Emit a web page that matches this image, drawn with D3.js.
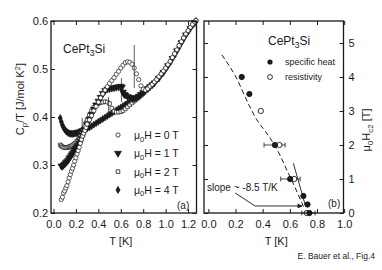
<!DOCTYPE html>
<html><head><meta charset="utf-8">
<script src="https://cdn.jsdelivr.net/npm/d3@7"></script>
<style>
html,body{margin:0;padding:0;background:#fff;}
svg{display:block;font-family:"Liberation Sans",Arial,Helvetica,sans-serif;}
</style></head>
<body>
<svg id="c" width="382" height="270"></svg>
<script>
// ---------- DATA: panel (a) Cp/T vs T ----------
const h0T = [0.07,0.08,0.09,0.10,0.11,0.12,0.13,0.14,0.15,0.16,0.17,0.18,0.19,0.20,0.21,0.22,0.23,0.24,0.25,0.26,0.27,0.28,0.29,0.30,0.32,0.34,0.36,0.38,0.40,0.42,0.44,0.46,0.48,0.50,0.52,0.54,0.56,0.58,0.60,0.62,0.64,0.66,0.68,0.70,0.72,0.74,0.76,0.78,0.80,0.82,0.84,0.86,0.88,0.90,0.92,0.94,0.96,0.98,1.00,1.02,1.04,1.06,1.08,1.10,1.12,1.14,1.16,1.18,1.20,1.22,1.24,1.26,1.27];
const h0C = [0.228,0.233,0.242,0.246,0.252,0.257,0.265,0.273,0.280,0.287,0.293,0.300,0.308,0.315,0.323,0.330,0.337,0.345,0.353,0.360,0.366,0.372,0.378,0.385,0.394,0.403,0.413,0.422,0.431,0.440,0.448,0.456,0.463,0.470,0.476,0.482,0.489,0.495,0.502,0.508,0.513,0.515,0.514,0.510,0.502,0.490,0.478,0.465,0.458,0.456,0.459,0.464,0.468,0.473,0.478,0.484,0.490,0.496,0.502,0.509,0.516,0.524,0.532,0.540,0.549,0.557,0.565,0.573,0.580,0.587,0.593,0.598,0.601];

const h1T = [0.07,0.08,0.09,0.10,0.11,0.12,0.13,0.14,0.15,0.16,0.17,0.18,0.19,0.20,0.21,0.22,0.23,0.24,0.25,0.26,0.27,0.28,0.30,0.32,0.34,0.36,0.38,0.40,0.42,0.44,0.46,0.48,0.50,0.52,0.54,0.56,0.58,0.60,0.61,0.62,0.63,0.64,0.66,0.68,0.70,0.72,0.74,0.76,0.78,0.80,0.82,0.84,0.86,0.88,0.90,0.94,0.98,1.02,1.06,1.10,1.14,1.18,1.22,1.26];
const h1C = [0.298,0.297,0.300,0.302,0.305,0.307,0.310,0.314,0.317,0.321,0.324,0.328,0.332,0.335,0.338,0.341,0.345,0.350,0.356,0.362,0.368,0.374,0.385,0.396,0.406,0.416,0.425,0.433,0.441,0.449,0.455,0.458,0.459,0.460,0.461,0.462,0.463,0.464,0.462,0.452,0.447,0.446,0.443,0.441,0.439,0.438,0.440,0.443,0.447,0.451,0.455,0.459,0.463,0.467,0.471,0.481,0.493,0.507,0.522,0.538,0.555,0.571,0.585,0.597];

const h2T = [0.06,0.07,0.08,0.09,0.10,0.11,0.12,0.13,0.14,0.15,0.16,0.17,0.18,0.19,0.20,0.21,0.22,0.23,0.24,0.25,0.26,0.27,0.28,0.29,0.30,0.32,0.34,0.36,0.38,0.40,0.42,0.44,0.46,0.48,0.50,0.52,0.54,0.56,0.58,0.60,0.62,0.64,0.66,0.68,0.70,0.72,0.74,0.76,0.78,0.80,0.84,0.88,0.92,0.96,1.00,1.04,1.08,1.12,1.16,1.20,1.24,1.27];
const h2C = [0.342,0.340,0.338,0.337,0.336,0.336,0.336,0.337,0.338,0.339,0.340,0.341,0.343,0.345,0.347,0.350,0.353,0.357,0.361,0.366,0.371,0.376,0.382,0.388,0.394,0.404,0.413,0.420,0.425,0.428,0.430,0.431,0.432,0.431,0.428,0.418,0.412,0.410,0.410,0.411,0.413,0.417,0.421,0.425,0.429,0.433,0.437,0.441,0.445,0.449,0.458,0.467,0.477,0.489,0.501,0.514,0.530,0.547,0.564,0.578,0.592,0.600];

const h4T = [0.06,0.07,0.08,0.09,0.10,0.11,0.12,0.13,0.14,0.15,0.16,0.17,0.18,0.19,0.20,0.21,0.22,0.23,0.24,0.25,0.26,0.27,0.28,0.30,0.32,0.34,0.36,0.38,0.40,0.42,0.44,0.46,0.48,0.50,0.52,0.54,0.56,0.58,0.60,0.62,0.64,0.66,0.68,0.70,0.72,0.74,0.76,0.78,0.80,0.82,0.84,0.86,0.88,0.90,0.92,0.96,1.00,1.04,1.08,1.12,1.16,1.20,1.24,1.27];
const h4C = [0.398,0.390,0.383,0.378,0.374,0.371,0.369,0.367,0.366,0.365,0.365,0.365,0.365,0.366,0.366,0.367,0.368,0.369,0.370,0.371,0.372,0.373,0.374,0.376,0.378,0.381,0.384,0.387,0.390,0.393,0.396,0.399,0.402,0.405,0.408,0.411,0.414,0.417,0.420,0.423,0.426,0.429,0.432,0.435,0.438,0.441,0.444,0.448,0.452,0.456,0.460,0.464,0.468,0.472,0.477,0.488,0.500,0.514,0.530,0.547,0.564,0.578,0.591,0.600];

// entropy-conserving jump constructions (T, low, high)
const jumpT  = [0.72, 0.606, 0.49, 0.256];
const jumpLo = [0.460, 0.431, 0.404, 0.373];
const jumpHi = [0.550, 0.481, 0.442, 0.398];

const legendA = ["μ0H = 0 T","μ0H = 1 T","μ0H = 2 T","μ0H = 4 T"];
const xTicksA = [0,0.2,0.4,0.6,0.8,1.0,1.2];
const yTicksA = [0.2,0.3,0.4,0.5,0.6];

// ---------- DATA: panel (b) Hc2 vs T ----------
const shT = [0.246,0.302,0.490,0.602,0.700,0.730,0.744];
const shH = [4.0,3.5,2.0,1.0,0.5,0.25,0.0];
const rsT = [0.386,0.523,0.632,0.725];
const rsH = [3.0,2.0,1.0,0.0];
const errH  = [2,1,0];
const errLo = [0.41,0.533,0.688];
const errHi = [0.565,0.676,0.786];
const fitT = [0.099,0.20,0.30,0.357,0.42,0.479,0.53,0.578,0.63,0.663,0.70];
const fitH = [4.65,4.02,3.17,2.74,2.40,2.05,1.68,1.26,0.82,0.53,0.19];
const slopeT = [0.626,0.713];
const slopeH = [1.46,0.235];
const arrowT = [0.197,0.344,0.690];
const arrowH = [0.59,0.206,0.206];
const xTicksB = [0,0.2,0.4,0.6,0.8,1.0];
const yTicksB = [0,1,2,3,4,5];

// ---------- DRAW ----------
const svg = d3.select("#c");
const ink = "#1a1a1a";

const xA = d3.scaleLinear().domain([-0.022,1.275]).range([51,196.5]);
const yA = d3.scaleLinear().domain([0.2,0.6]).range([213,21]);
const xB = d3.scaleLinear().domain([-0.032,0.995]).range([204,343.5]);
const yB = d3.scaleLinear().domain([0,5.647]).range([213,21]);

function frame(x,y){
  svg.append("rect").attr("x",x.range()[0]).attr("y",y.range()[1])
    .attr("width",x.range()[1]-x.range()[0]).attr("height",y.range()[0]-y.range()[1])
    .attr("fill","none").attr("stroke",ink).attr("stroke-width",1.3);
}
function styleAxis(g){
  g.select(".domain").remove();
  g.selectAll("line").attr("stroke",ink).attr("stroke-width",1);
  g.selectAll("text").attr("fill",ink).attr("font-size",11).attr("font-family",'"Liberation Sans",Arial,sans-serif');
}
function axes(x,y,xt,yt,xfmt,yfmt,yRight){
  const b=y.range()[0], t=y.range()[1], l=x.range()[0], r=x.range()[1];
  svg.append("g").attr("transform",`translate(0,${b})`)
    .call(d3.axisBottom(x).tickValues(xt).tickSize(-4).tickPadding(7).tickFormat(xfmt)).call(styleAxis);
  svg.append("g").attr("transform",`translate(0,${t})`)
    .call(d3.axisTop(x).tickValues(xt).tickSize(-4).tickFormat("")).call(styleAxis);
  if(!yRight){
    svg.append("g").attr("transform",`translate(${l},0)`)
      .call(d3.axisLeft(y).tickValues(yt).tickSize(-4).tickPadding(3).tickFormat(yfmt)).call(styleAxis);
    svg.append("g").attr("transform",`translate(${r},0)`)
      .call(d3.axisRight(y).tickValues(yt).tickSize(-4).tickFormat("")).call(styleAxis);
  } else {
    svg.append("g").attr("transform",`translate(${l},0)`)
      .call(d3.axisLeft(y).tickValues(yt).tickSize(-4).tickFormat("")).call(styleAxis);
    svg.append("g").attr("transform",`translate(${r},0)`)
      .call(d3.axisRight(y).tickValues(yt).tickSize(-4).tickPadding(5).tickFormat(yfmt)).call(styleAxis);
  }
}

// ===== panel (a) =====
const symCircle = d3.symbol().type(d3.symbolCircle).size(14);
const symTri = d3.symbol().type(d3.symbolTriangle).size(20);
const symSq = d3.symbol().type(d3.symbolSquare).size(13);
const symDia = d3.symbol().type(d3.symbolDiamond).size(14);

const gA = svg.append("g");
function series(T,C,sym,fill,rot){
  gA.selectAll(null).data(T.map((t,i)=>[t,C[i]])).enter().append("path")
    .attr("d",sym).attr("transform",d=>`translate(${xA(d[0])},${yA(d[1])})${rot?" rotate(180)":""}`)
    .attr("fill",fill).attr("stroke",ink).attr("stroke-width",0.7);
}
series(h4T,h4C,symDia,ink,false);
series(h2T,h2C,symSq,"#fff",false);
series(h1T,h1C,symTri,ink,true);
series(h0T,h0C,symCircle,"#fff",false);

gA.selectAll(null).data(jumpT).enter().append("line")
  .attr("x1",d=>xA(d)).attr("x2",d=>xA(d))
  .attr("y1",(d,i)=>yA(jumpLo[i])).attr("y2",(d,i)=>yA(jumpHi[i]))
  .attr("stroke",ink).attr("stroke-width",0.7);

frame(xA,yA);
axes(xA,yA,xTicksA,yTicksA,d3.format(".1f"),d3.format(".1f"),false);

// legend (a)
const legSyms=[[symCircle,"#fff",false],[symTri,ink,true],[symSq,"#fff",false],[symDia,ink,false]];
legendA.forEach((s,i)=>{
  const yy=135+i*18.3;
  svg.append("path").attr("d",legSyms[i][0]).attr("transform",`translate(118,${yy})${legSyms[i][2]?" rotate(180)":""}`)
    .attr("fill",legSyms[i][1]).attr("stroke",ink).attr("stroke-width",0.8);
  const t=svg.append("text").attr("x",134).attr("y",yy+4).attr("font-size",10.5).attr("fill",ink);
  t.append("tspan").text("μ");
  t.append("tspan").attr("font-size",7.5).attr("dy",2.5).text("0");
  t.append("tspan").attr("dy",-2.5).text(s.slice(2));
});

// title (a)
function cept(x,y,fs){
  const t=svg.append("text").attr("x",x).attr("y",y).attr("font-size",fs).attr("fill",ink);
  t.append("tspan").text("CePt");
  t.append("tspan").attr("font-size",fs*0.72).attr("dy",fs*0.28).text("3");
  t.append("tspan").attr("dy",-fs*0.28).text("Si");
}
cept(63,52.5,12);
svg.append("text").attr("x",177).attr("y",209).attr("font-size",10).attr("fill",ink).text("(a)");

// axis titles (a)
svg.append("text").attr("x",xA(0.6)).attr("y",245).attr("text-anchor","middle").attr("font-size",11).attr("fill",ink).text("T [K]");
{
  const t=svg.append("text").attr("transform","translate(24,99) rotate(-90)").attr("text-anchor","middle").attr("font-size",11).attr("fill",ink);
  t.append("tspan").text("C");
  t.append("tspan").attr("font-size",8).attr("dy",3).text("p");
  t.append("tspan").attr("dy",-3).text("/T [J/mol K");
  t.append("tspan").attr("font-size",8).attr("dy",-4).text("2");
  t.append("tspan").attr("dy",4).text("]");
}

// ===== panel (b) =====
const gB = svg.append("g");
const line = d3.line().x(d=>xB(d[0])).y(d=>yB(d[1]));
gB.append("path").datum(fitT.map((t,i)=>[t,fitH[i]])).attr("d",d3.line().curve(d3.curveMonotoneX).x(d=>xB(d[0])).y(d=>yB(d[1])))
  .attr("fill","none").attr("stroke",ink).attr("stroke-width",1).attr("stroke-dasharray","5,3");
gB.append("path").datum(slopeT.map((t,i)=>[t,slopeH[i]])).attr("d",line)
  .attr("fill","none").attr("stroke",ink).attr("stroke-width",0.9);
// error bars
errH.forEach((h,i)=>{
  const yy=yB(h);
  gB.append("line").attr("x1",xB(errLo[i])).attr("x2",xB(errHi[i])).attr("y1",yy).attr("y2",yy).attr("stroke",ink).attr("stroke-width",0.8);
  [errLo[i],errHi[i]].forEach(v=>gB.append("line").attr("x1",xB(v)).attr("x2",xB(v)).attr("y1",yy-2.5).attr("y2",yy+2.5).attr("stroke",ink).attr("stroke-width",0.8));
});
// markers
const symB = d3.symbol().type(d3.symbolCircle).size(22);
gB.selectAll(null).data(rsT.map((t,i)=>[t,rsH[i]])).enter().append("path").attr("d",symB)
  .attr("transform",d=>`translate(${xB(d[0])},${yB(d[1])})`).attr("fill","#fff").attr("stroke",ink).attr("stroke-width",0.9);
gB.selectAll(null).data(shT.map((t,i)=>[t,shH[i]])).enter().append("path").attr("d",symB)
  .attr("transform",d=>`translate(${xB(d[0])},${yB(d[1])})`).attr("fill",ink).attr("stroke",ink).attr("stroke-width",0.9);
// arrow
svg.append("defs").append("marker").attr("id","ah").attr("viewBox","0 0 10 10").attr("refX",9).attr("refY",5)
  .attr("markerWidth",7).attr("markerHeight",5).attr("orient","auto").attr("markerUnits","userSpaceOnUse")
  .append("path").attr("d","M0,0 L10,5 L0,10 z").attr("fill",ink);
gB.append("path").datum(arrowT.map((t,i)=>[t,arrowH[i]])).attr("d",line)
  .attr("fill","none").attr("stroke",ink).attr("stroke-width",0.9).attr("marker-end","url(#ah)");
svg.append("text").attr("x",207).attr("y",191).attr("font-size",10).attr("fill",ink).text("slope ~ -8.5 T/K");

frame(xB,yB);
axes(xB,yB,xTicksB,yTicksB,d3.format(".1f"),d3.format("d"),true);

cept(268,45,12);
// legend (b)
svg.append("circle").attr("cx",270).attr("cy",62).attr("r",2.6).attr("fill",ink);
svg.append("text").attr("x",285).attr("y",65).attr("font-size",9).attr("fill",ink).text("specific heat");
svg.append("circle").attr("cx",270).attr("cy",77).attr("r",2.4).attr("fill","#fff").attr("stroke",ink).attr("stroke-width",0.9);
svg.append("text").attr("x",285).attr("y",80).attr("font-size",9).attr("fill",ink).text("resistivity");
svg.append("text").attr("x",328).attr("y",207).attr("font-size",10).attr("fill",ink).text("(b)");

svg.append("text").attr("x",xB(0.5)).attr("y",245).attr("text-anchor","middle").attr("font-size",11).attr("fill",ink).text("T [K]");
{
  const t=svg.append("text").attr("transform","translate(370,130) rotate(-90)").attr("text-anchor","middle").attr("font-size",11).attr("fill",ink);
  t.append("tspan").text("μ");
  t.append("tspan").attr("font-size",8).attr("dy",3).text("0");
  t.append("tspan").attr("dy",-3).text("H");
  t.append("tspan").attr("font-size",8).attr("dy",3).text("c2");
  t.append("tspan").attr("dy",-3).text(" [T]");
}
svg.append("text").attr("x",375).attr("y",259).attr("text-anchor","end").attr("font-size",8.5).attr("fill",ink).text("E. Bauer et al., Fig.4");
</script>
</body></html>
